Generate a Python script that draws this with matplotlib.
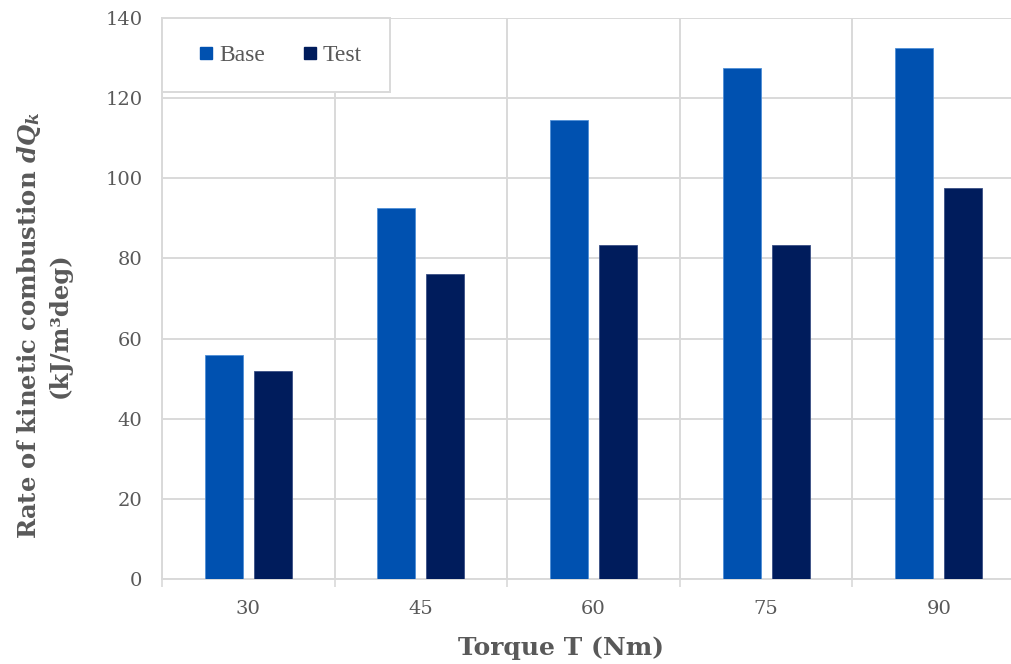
import matplotlib
matplotlib.use("Agg")
import matplotlib.pyplot as plt
import numpy as np
from matplotlib.lines import Line2D
from matplotlib.patches import Rectangle

# Data
torque = ["30", "45", "60", "75", "90"]
base = [56, 92.5, 114.5, 127.5, 132.5]
test = [52, 76, 83.3, 83.3, 97.5]

BASE_COLOR = "#0051B0"
TEST_COLOR = "#001C5C"
GRID = "#D9D9D9"
TEXT = "#595959"
FONT = "DejaVu Serif"

plt.rcParams["font.family"] = FONT
plt.rcParams["mathtext.fontset"] = "custom"
plt.rcParams["mathtext.it"] = "DejaVu Serif:italic:bold"
plt.rcParams["mathtext.rm"] = "DejaVu Serif:bold"
plt.rcParams["mathtext.bf"] = "DejaVu Serif:bold"

W, H = 1011, 664
fig = plt.figure(figsize=(W / 100, H / 100), dpi=100)
ax = fig.add_axes([162 / W, (H - 579) / H, (1025 - 162) / W, (579 - 18) / H])

x = np.arange(len(torque))
bw = 0.22
off = 0.142
ax.bar(x - off, base, bw, color=BASE_COLOR, edgecolor="#4F8FD6", linewidth=0.6, zorder=3, label="Base")
ax.bar(x + off, test, bw, color=TEST_COLOR, edgecolor="#3A4F85", linewidth=0.6, zorder=3, label="Test")

ax.set_xlim(-0.5, len(torque) - 0.5)
ax.set_ylim(0, 140)
ax.set_yticks(np.arange(0, 141, 20))

# category boundaries carry the tick marks and vertical gridlines
ax.set_xticks(np.arange(-0.5, len(torque)), labels=[""] * (len(torque) + 1))
ax.set_xticks(x, labels=torque, minor=True)
ax.tick_params(axis="x", which="major", length=6, width=1.2, color=GRID, direction="out")
ax.tick_params(axis="x", which="minor", length=0, pad=15, labelsize=14, labelcolor=TEXT)
ax.tick_params(axis="y", length=0, pad=14, labelsize=14, labelcolor=TEXT)

ax.grid(True, which="major", color=GRID, linewidth=1.4, zorder=0)
ax.set_axisbelow(True)
for s in ["top", "right"]:
    ax.spines[s].set_visible(False)
for s in ["left", "bottom"]:
    ax.spines[s].set_color(GRID)
    ax.spines[s].set_linewidth(1.4)


def to_axes(px, py):
    """Figure pixel position (from top-left) -> axes fraction."""
    disp = (px, H - py)
    return ax.transAxes.inverted().transform(disp)


# legend box
(x0, y1), (x1, y0) = to_axes(162, 18), to_axes(390, 92)
ax.add_patch(Rectangle((x0, y0), x1 - x0, y1 - y0, transform=ax.transAxes,
                       facecolor="white", edgecolor=GRID, linewidth=1.4,
                       zorder=4, clip_on=False))

handles = [
    Line2D([], [], marker="s", linestyle="none", markersize=8, color=BASE_COLOR, label="Base"),
    Line2D([], [], marker="s", linestyle="none", markersize=8, color=TEST_COLOR, label="Test"),
]
cx, cy = to_axes(281, 55)
leg = ax.legend(handles=handles, loc="center", bbox_to_anchor=(cx, cy), ncol=2,
                frameon=False, borderaxespad=0, borderpad=0,
                handlelength=0.5, handletextpad=0.3, columnspacing=1.65,
                prop={"family": "Liberation Serif", "size": 17}, labelcolor=TEXT)
leg.set_zorder(5)

fig.text(43 / W, 1 - 325 / H,
         "Rate of kinetic combustion $dQ_k$\n(kJ/m³deg)",
         rotation=90, ha="center", va="center", multialignment="center",
         fontsize=17.5, fontweight="bold", color=TEXT, linespacing=1.25)
fig.text(561 / W, 1 - 648 / H, "Torque T (Nm)", ha="center", va="center",
         fontsize=18, fontweight="bold", color=TEXT)

fig.savefig("out.png", dpi=100, facecolor="white")
